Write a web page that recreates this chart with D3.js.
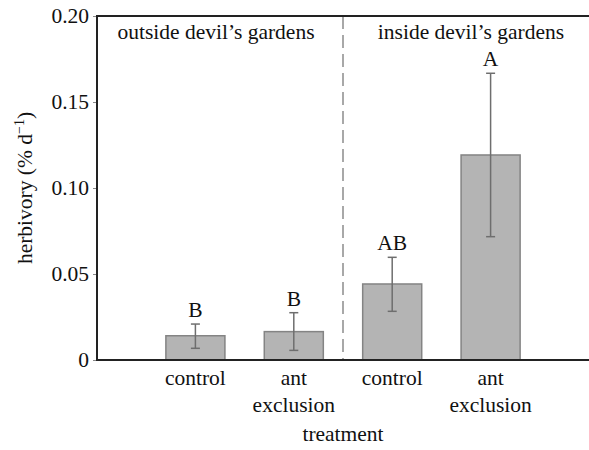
<!DOCTYPE html>
<html><head><meta charset="utf-8">
<script src="https://cdn.jsdelivr.net/npm/d3@7"></script>
<style>body{margin:0;background:#fff;}</style>
</head><body><svg id="c" width="589" height="450"></svg>
<script>
const categories = ["oc","oa","ic","ia"];
const catLines = [["control"],["ant","exclusion"],["control"],["ant","exclusion"]];
const means = [0.0141, 0.0165, 0.0442, 0.1192];
const errLow = [0.0068, 0.0056, 0.0283, 0.0717];
const errHigh = [0.0209, 0.0275, 0.0597, 0.1667];
const letters = ["B","B","AB","A"];
const groups = ["outside devil\u2019s gardens","inside devil\u2019s gardens"];
const yTicks = [0, 0.05, 0.10, 0.15, 0.20];
const yTickLabels = ["0","0.05","0.10","0.15","0.20"];

const FONT = "Liberation Serif, DejaVu Serif, Noto Serif, Tinos, Times New Roman, Times, serif";
const svg = d3.select("#c");
const L = 97, R = 589, T = 16, B = 360;
const y = d3.scaleLinear().domain([0,0.2]).range([B,T]);
const x = d3.scaleBand().domain(categories).range([L, R]).paddingInner(0.4).paddingOuter(0.7);
const fs = 21.5;
function txt(sel){ return sel.style("font-family",FONT).style("font-size",fs+"px").attr("fill","#111"); }

// bars
svg.selectAll("rect.bar").data(categories).enter().append("rect")
  .attr("x", d=>x(d)).attr("width", x.bandwidth())
  .attr("y", (d,i)=>y(means[i])).attr("height",(d,i)=>y(0)-y(means[i]))
  .attr("fill","#b4b4b4").attr("stroke","#848484").attr("stroke-width",1.5);

// error bars
const eg = svg.append("g").attr("stroke","#6e6e6e").attr("stroke-width",1.5);
categories.forEach((c,i)=>{
  const cx = x(c)+x.bandwidth()/2;
  eg.append("line").attr("x1",cx).attr("x2",cx).attr("y1",y(errLow[i])).attr("y2",y(errHigh[i]));
  eg.append("line").attr("x1",cx-4.5).attr("x2",cx+4.5).attr("y1",y(errLow[i])).attr("y2",y(errLow[i]));
  eg.append("line").attr("x1",cx-4.5).attr("x2",cx+4.5).attr("y1",y(errHigh[i])).attr("y2",y(errHigh[i]));
  txt(svg.append("text")).attr("x",cx).attr("y",y(errHigh[i])-7).attr("text-anchor","middle").text(letters[i]);
});

// dashed separator
const sepX = (x(categories[1])+x.bandwidth()/2 + x(categories[2])+x.bandwidth()/2)/2;
svg.append("line").attr("x1",sepX).attr("x2",sepX).attr("y1",T).attr("y2",B)
  .attr("stroke","#a8a8a8").attr("stroke-width",2).attr("stroke-dasharray","13,6");

// group titles
[0,1].forEach(g=>{
  const cx = g===0 ? (L+sepX)/2 - 4 : (sepX+R)/2 + 5;
  txt(svg.append("text")).attr("x",cx).attr("y",39).attr("text-anchor","middle").text(groups[g]);
});

// y axis
const ya = svg.append("g").attr("transform",`translate(${L},0)`)
  .call(d3.axisLeft(y).tickValues(yTicks).tickFormat((d,i)=>yTickLabels[i]).tickSize(4).tickPadding(4));
ya.select(".domain").remove();
ya.selectAll("line").attr("stroke","#888");
txt(ya.selectAll("text"));

// x axis labels
const xa = svg.append("g").attr("transform",`translate(0,${B})`)
  .call(d3.axisBottom(x).tickSize(0).tickFormat(""));
xa.select(".domain").remove();
categories.forEach((c,i)=>{
  const cx = x(c)+x.bandwidth()/2;
  const t = txt(svg.append("text")).attr("text-anchor","middle");
  catLines[i].forEach((s,k)=>t.append("tspan").attr("x",cx).attr("y",385+k*26.5).text(s));
});

// frame lines
svg.append("line").attr("x1",L).attr("x2",R).attr("y1",T).attr("y2",T).attr("stroke","#222").attr("stroke-width",2);
svg.append("line").attr("x1",L).attr("x2",R).attr("y1",B).attr("y2",B).attr("stroke","#222").attr("stroke-width",2);
svg.append("line").attr("x1",L).attr("x2",L).attr("y1",T-1).attr("y2",B+1).attr("stroke","#222").attr("stroke-width",2);

// axis titles
txt(svg.append("text")).attr("x",343).attr("y",441).attr("text-anchor","middle").text("treatment");
const yl = txt(svg.append("text")).attr("transform",`translate(32,${(T+B)/2}) rotate(-90)`).attr("text-anchor","middle");
yl.append("tspan").text("herbivory (% d");
yl.append("tspan").attr("dy",-8).style("font-size","14px").text("\u22121");
yl.append("tspan").attr("dy",8).text(")");
</script></body></html>
